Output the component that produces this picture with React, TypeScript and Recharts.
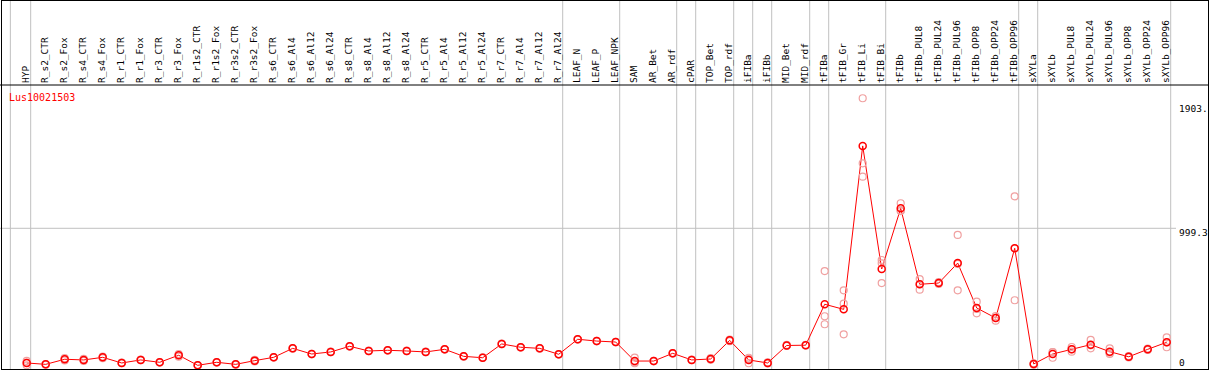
import { ComposedChart, Line, XAxis, YAxis, ReferenceLine } from 'recharts'

const samples = [
    'HYP',
    'R_s2_CTR', 'R_s2_Fox', 'R_s4_CTR', 'R_s4_Fox', 'R_r1_CTR', 'R_r1_Fox', 'R_r3_CTR', 'R_r3_Fox',
    'R_r1s2_CTR', 'R_r1s2_Fox', 'R_r3s2_CTR', 'R_r3s2_Fox',
    'R_s6_CTR', 'R_s6_Al4', 'R_s6_Al12', 'R_s6_Al24', 'R_s8_CTR', 'R_s8_Al4', 'R_s8_Al12', 'R_s8_Al24',
    'R_r5_CTR', 'R_r5_Al4', 'R_r5_Al12', 'R_r5_Al24', 'R_r7_CTR', 'R_r7_Al4', 'R_r7_Al12', 'R_r7_Al24',
    'LEAF_N', 'LEAF_P', 'LEAF_NPK', 'SAM', 'AR_Bet', 'AR_rdf', 'cPAR', 'TOP_Bet', 'TOP_rdf',
    'iFIBa', 'iFIBb', 'MID_Bet', 'MID_rdf', 'tFIBa', 'tFIB_Gr', 'tFIB_Li', 'tFIB_Bi', 'tFIBb',
    'tFIBb_PUL8', 'tFIBb_PUL24', 'tFIBb_PUL96', 'tFIBb_OPP8', 'tFIBb_OPP24', 'tFIBb_OPP96',
    'sXYLa', 'sXYLb', 'sXYLb_PUL8', 'sXYLb_PUL24', 'sXYLb_PUL96', 'sXYLb_OPP8', 'sXYLb_OPP24', 'sXYLb_OPP96',
]

// mean expression per sample
const means = [
    22, 12, 49, 44, 63, 22, 44, 27, 78, 5, 27, 12, 39, 63, 128, 87, 102, 143, 109, 114, 109,
    102, 121, 70, 60, 160, 136, 128, 85, 194, 181, 174, 36, 36, 92, 44, 51, 186, 44, 22, 149,
    151, 448, 411, 1597, 704, 1144, 593, 602, 747, 421, 348, 854, 15, 87, 121, 155, 104, 67, 121, 172,
]

// replicates
const rep1 = [
    5, 10, 40, 37, 57, 20, 42, 25, 68, 3, 25, 10, 33, 61, 126, 85, 100, 141, 107, 112, 107,
    100, 119, 68, 58, 158, 134, 126, 83, 192, 179, 172, 20, 34, 90, 42, 45, 180, 20, 18, 145,
    149, 303, 230, 1374, 602, 1124, 554, 595, 549, 382, 329, 477, 10, 60, 104, 128, 87, 62, 116, 136,
]
const rep2 = [
    24, 12, 50, 44, 63, 22, 44, 27, 78, 5, 27, 12, 39, 63, 128, 87, 102, 143, 109, 114, 109,
    102, 121, 70, 60, 160, 136, 128, 85, 194, 181, 174, 27, 36, 92, 44, 51, 186, 52, 22, 149,
    151, 361, 452, 1471, 745, 1127, 594, 602, 741, 414, 352, 854, 15, 100, 121, 150, 97, 67, 121, 172,
]
const rep3 = [
    37, 14, 57, 51, 69, 24, 46, 29, 87, 7, 29, 14, 45, 65, 130, 89, 104, 145, 111, 116, 111,
    104, 123, 72, 62, 162, 138, 130, 87, 196, 183, 176, 61, 38, 94, 46, 57, 192, 60, 26, 153,
    153, 689, 549, 1943, 769, 1181, 631, 609, 951, 467, 363, 1231, 20, 101, 138, 189, 128, 72, 126, 208,
]

// last sample of each group (a gray rule follows it)
const groupEnds = [0, 28, 31, 34, 35, 37, 38, 39, 41, 42, 45, 52, 53, 60]
const leftRule = -0.86

const yTicks = [0, 999.3, 1903.4]
const gridValue = 999.3

const rows = samples.map((s, i) => ({ idx: i, name: s, mean: means[i], r1: rep1[i], r2: rep2[i], r3: rep3[i] }))

const W = 1209
const H = 370
const X_DOMAIN: [number, number] = [-1.405, 62.226]
const Y_DOMAIN: [number, number] = [-29, 2039]
const Y_TOP = 2656
const FONT = '"DejaVu Sans Mono", monospace'
const RED = '#ff0000'
const PINK = '#f0a0a0'
const GRAY = '#c0c0c0'

const HeaderTick = (props: any) => {
    const { x, y, payload } = props
    const bx = x + 2.5
    return (
        <text x={bx} y={y} transform={`rotate(-90 ${bx} ${y})`} textAnchor="start" fontSize={9.5} fontFamily={FONT} fill="#000">
            {samples[payload.value]}
        </text>
    )
}

const ValueTick = (props: any) => {
    const { y, payload } = props
    const base = Math.min(y + 8, 366)
    return (
        <text x={1179} y={base} textAnchor="start" fontSize={9.5} fontFamily={FONT} fill="#000">
            {String(payload.value).slice(0, 5)}
        </text>
    )
}

const meanDot = (p: any) => (
    <circle key={`m${p.index}`} cx={p.cx} cy={p.cy} r={3.5} fill="none" stroke={RED} strokeWidth={1.5} />
)
const repDot = (p: any) => (
    <circle key={`r${p.dataKey}${p.index}`} cx={p.cx} cy={p.cy} r={3.5} fill="none" stroke={PINK} strokeWidth={1.2} />
)

export default function App() {
    return (
        <div style={{ position: 'absolute', left: 0, top: 0, width: W, height: H, background: '#fff' }}>
            <ComposedChart width={W} height={H} data={rows} margin={{ top: 0, right: 0, bottom: 0, left: 0 }}>
                <XAxis
                    dataKey="idx"
                    type="number"
                    orientation="top"
                    height={85}
                    domain={X_DOMAIN}
                    allowDataOverflow
                    ticks={rows.map(r => r.idx)}
                    interval={0}
                    tickLine={false}
                    tickSize={0}
                    tickMargin={2}
                    axisLine={{ stroke: '#000', strokeWidth: 1 }}
                    tick={<HeaderTick />}
                />
                <YAxis
                    orientation="right"
                    mirror
                    width={30}
                    type="number"
                    domain={Y_DOMAIN}
                    allowDataOverflow
                    ticks={yTicks}
                    interval={0}
                    axisLine={false}
                    tickLine={false}
                    tickSize={0}
                    tick={<ValueTick />}
                />
                <ReferenceLine
                    ifOverflow="visible"
                    segment={[{ x: X_DOMAIN[0], y: gridValue }, { x: 60.49, y: gridValue }]}
                    stroke={GRAY}
                    strokeWidth={1}
                />
                {[leftRule, ...groupEnds.map(g => g + 0.21)].map(v => (
                    <ReferenceLine
                        key={v}
                        ifOverflow="visible"
                        segment={[{ x: v, y: Y_DOMAIN[0] }, { x: v, y: Y_TOP }]}
                        stroke={GRAY}
                        strokeWidth={1}
                    />
                ))}
                {['r1', 'r2', 'r3'].map(k => (
                    <Line key={k} dataKey={k} stroke="none" dot={repDot} activeDot={false} isAnimationActive={false} />
                ))}
                <Line dataKey="mean" stroke={RED} strokeWidth={1} dot={meanDot} activeDot={false} isAnimationActive={false} />
            </ComposedChart>
            <svg width={W} height={H} style={{ position: 'absolute', left: 0, top: 0, pointerEvents: 'none' }}>
                <rect x={1.5} y={0.5} width={1207} height={369} fill="none" stroke="#000" strokeWidth={1} />
                <text x={9} y={101} fontSize={10} fontFamily={FONT} fill={RED}>Lus10021503</text>
            </svg>
        </div>
    )
}
